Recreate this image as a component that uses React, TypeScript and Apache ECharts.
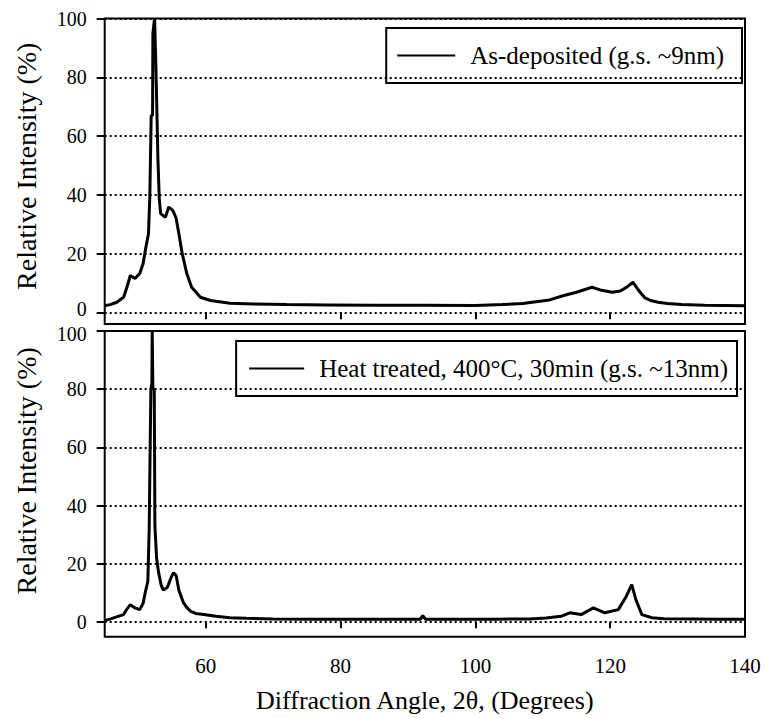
import React, { useEffect, useRef } from "react";
import * as echarts from "echarts";

// As-deposited (g.s. ~9nm)
const asDepAngle = [
  45, 45.8, 46.8, 47.8, 48.3, 48.8, 49.5, 50.2, 50.7, 51.1, 51.5, 51.7, 51.9, 52.1, 52.15, 52.4, 52.5, 52.6,
  52.9, 53.1, 53.3, 54.0, 54.5, 55.1, 55.6, 56.0, 56.5, 57.2, 57.9, 59.2, 60.7, 63.6, 67, 72, 78, 85, 92,
  100, 104, 107, 109, 111, 113, 115, 117.3, 118.5, 120.3, 121.5, 122.6, 123.4, 124.2, 125.1, 126, 127.1,
  128.5, 130.6, 134, 137, 140,
];
const asDepIntensity = [
  2.2, 2.6, 3.4, 5.1, 8.5, 12.5, 11.5, 13.2, 16.6, 22, 26.8, 40, 67, 67, 95, 100, 100, 83.6,
  51.8, 38.6, 33.6, 32.3, 35.8, 34.7, 32, 26.8, 20, 13, 8.5, 5.1, 4, 3.1, 2.8, 2.6, 2.5, 2.4, 2.4,
  2.3, 2.6, 3.0, 3.6, 4.2, 5.6, 6.8, 8.5, 7.6, 6.8, 7.2, 8.8, 10.2, 7.5, 5, 4, 3.4,
  3.0, 2.6, 2.4, 2.3, 2.2,
];

// Heat treated, 400°C, 30min (g.s. ~13nm)
const heatAngle = [
  45, 46, 47, 47.8, 48.3, 48.8, 49.4, 50.2, 50.7, 51.0, 51.4, 51.6, 51.85, 52.0, 52.05, 52.15, 52.35,
  52.45, 52.7, 53.0, 53.4, 53.7, 54.3, 54.8, 55.2, 55.6, 56.0, 56.4, 56.7, 57.2, 57.7, 58.5, 59.7, 61.5,
  63.6, 66, 70, 76, 82, 88, 91.8, 92.2, 92.6, 97, 103, 108, 110.5, 112.7, 114, 115.7, 117.5, 119.2,
  121.2, 122.4, 123.2, 123.8, 124.7, 126.2, 128, 132, 136, 140,
];
const heatIntensity = [
  0.5, 1.2, 2.0, 2.6, 4.5, 6.0, 5.0, 4.3, 6.5, 10, 14, 32, 80, 82, 100, 80, 80,
  33, 22, 17, 12.5, 11, 12, 15, 17, 16, 11, 8.5, 6.6, 5, 3.8, 3.0, 2.6, 2.0,
  1.5, 1.3, 1.1, 1.0, 1.0, 1.0, 1.0, 2.2, 1.0, 1.0, 1.0, 1.1, 1.4, 2.0, 3.2, 2.6, 4.9, 3.2,
  4.3, 8.9, 12.9, 7.8, 2.6, 1.5, 1.2, 1.1, 1.0, 1.0,
];

const xTicks = [60, 80, 100, 120, 140];
const yTicks = [0, 20, 40, 60, 80, 100];

const seriesNames = ["As-deposited (g.s. ~9nm)", "Heat treated, 400°C, 30min (g.s. ~13nm)"];

const FONT = "'Liberation Serif', 'Times New Roman', serif";
const TICK_FONT = 20;

export default function App() {
  const ref = useRef<HTMLDivElement>(null);
  useEffect(() => {
    if (!ref.current) return;
    const chart = echarts.init(ref.current, null, { renderer: "svg" });
    const pairs = (xs: number[], ys: number[]) => xs.map((x, i) => [x, ys[i]]);

    const tok = { fontFamily: FONT, fontSize: TICK_FONT, color: "#000" };
    const yAxisBase = (gridIndex: number, min: number, shift: number, nudgeValue: number, nudge: "up" | "down") => ({
      type: "value",
      gridIndex,
      min,
      max: 100,
      axisLine: { show: false },
      axisTick: { show: true, inside: false, length: 8, customValues: yTicks, lineStyle: { color: "#000", width: 2 } },
      axisLabel: {
        customValues: yTicks,
        margin: 18,
        color: "#000",
        fontFamily: FONT,
        fontSize: TICK_FONT,
        formatter: (v: number) => (v === nudgeValue ? `{s|${v}}` : `{n|${v}}`),
        rich: {
          n: tok,
          s: { ...tok, padding: nudge === "up" ? [0, 0, 6, 0] : [6, 0, 0, 0] },
        },
      },
      splitLine: { show: true, lineStyle: { color: "#000", width: 2, type: [2, 3] } },
      name: "Relative Intensity (%)",
      nameLocation: "middle",
      nameGap: 64,
      nameTextStyle: { color: "#000", fontFamily: FONT, fontSize: 28, padding: [0, 0, 0, shift] },
    });

    chart.setOption({
      animation: false,
      backgroundColor: "#fff",
      textStyle: { fontFamily: FONT, color: "#000" },
      grid: [
        { left: 104.7, top: 18.5, width: 640.3, height: 305.5, show: true, borderColor: "#000", borderWidth: 2 },
        { left: 104.7, top: 331, width: 640.3, height: 305.7, show: true, borderColor: "#000", borderWidth: 2 },
      ],
      xAxis: [
        {
          type: "value",
          gridIndex: 0,
          min: 45,
          max: 140,
          axisLine: { show: false },
          axisTick: { show: true, length: 7, customValues: [60, 80, 100, 120], lineStyle: { color: "#000", width: 2 } },
          axisLabel: { show: false },
          splitLine: { show: false },
        },
        {
          type: "value",
          gridIndex: 1,
          min: 45,
          max: 140,
          axisLine: { show: false },
          axisTick: { show: true, length: 6, customValues: xTicks, lineStyle: { color: "#000", width: 2 } },
          axisLabel: { customValues: xTicks, margin: 19, color: "#000", fontFamily: FONT, fontSize: 21 },
          splitLine: { show: false },
          name: "Diffraction Angle, 2θ, (Degrees)",
          nameLocation: "middle",
          nameGap: 51,
          nameTextStyle: { color: "#000", fontFamily: FONT, fontSize: 26 },
        },
      ],
      yAxis: [yAxisBase(0, -4, 10, 0, "up"), yAxisBase(1, -5, 26, 100, "down")],
      legend: [
        {
          data: [seriesNames[0]],
          right: 23,
          top: 28,
          orient: "vertical",
          borderColor: "#000",
          borderWidth: 2,
          padding: [15, 18, 15, 11],
          itemWidth: 58,
          itemHeight: 12,
          icon: "path://M0,5 L58,5 L58,7 L0,7 Z",
          itemStyle: { color: "#000" },
          textStyle: { color: "#000", fontFamily: FONT, fontSize: 25, padding: [0, 0, 0, 10] },
          selectedMode: false,
        },
        {
          data: [seriesNames[1]],
          right: 28,
          top: 341,
          orient: "vertical",
          borderColor: "#000",
          borderWidth: 2,
          padding: [15, 9, 15, 13],
          itemWidth: 55,
          itemHeight: 12,
          icon: "path://M0,5 L58,5 L58,7 L0,7 Z",
          itemStyle: { color: "#000" },
          textStyle: { color: "#000", fontFamily: FONT, fontSize: 25, padding: [0, 0, 0, 10] },
          selectedMode: false,
        },
      ],
      series: [
        {
          name: seriesNames[0],
          type: "line",
          xAxisIndex: 0,
          yAxisIndex: 0,
          data: pairs(asDepAngle, asDepIntensity),
          showSymbol: false,
          symbol: "none",
          lineStyle: { color: "#000", width: 3 },
          itemStyle: { color: "#000" },
          clip: true,
        },
        {
          name: seriesNames[1],
          type: "line",
          xAxisIndex: 1,
          yAxisIndex: 1,
          data: pairs(heatAngle, heatIntensity),
          showSymbol: false,
          symbol: "none",
          lineStyle: { color: "#000", width: 3 },
          itemStyle: { color: "#000" },
          clip: true,
        },
      ],
    });
    return () => chart.dispose();
  }, []);
  return (
    <div
      ref={ref}
      style={{ position: "fixed", left: 0, top: 0, width: 765, height: 719, background: "#fff" }}
    />
  );
}
